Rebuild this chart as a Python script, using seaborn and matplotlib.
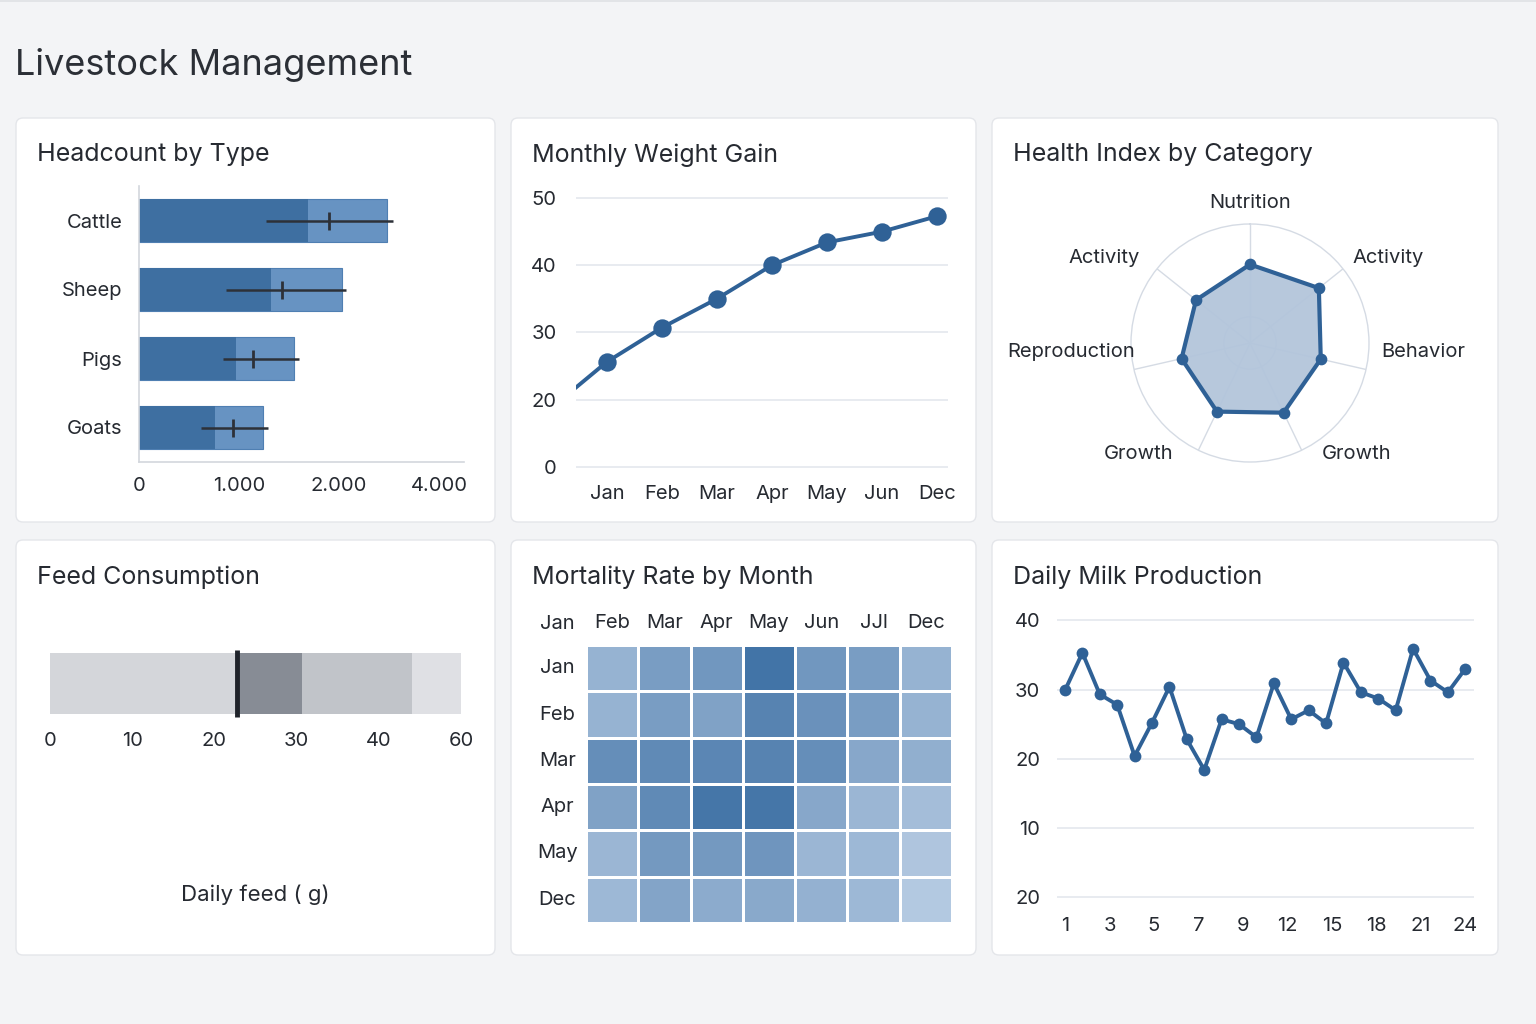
import numpy as np
import pandas as pd
import matplotlib.pyplot as plt
import seaborn as sns
from matplotlib.patches import FancyBboxPatch
from matplotlib.colors import LinearSegmentedColormap

# ---- data ----
animal_types = ["Cattle", "Sheep", "Pigs", "Goats"]
headcount_base = [1690, 1320, 970, 760]
headcount_total = [2480, 2030, 1550, 1240]
headcount_mean = [1900, 1430, 1140, 940]
headcount_low = [1270, 870, 840, 620]
headcount_high = [2540, 2070, 1600, 1290]
headcount_ticks = [0, 1000, 2000, 3000]
headcount_ticklabels = ["0", "1.000", "2.000", "4.000"]

weight_months = ["Jan", "Feb", "Mar", "Apr", "May", "Jun", "Dec"]
weight_gain = [25.6, 30.7, 35.0, 40.0, 43.4, 45.0, 47.3]
weight_prev = 18.8  # month before Jan, line enters from the left edge
weight_ticks = [10, 20, 30, 40, 50]
weight_ticklabels = ["0", "20", "30", "40", "50"]

health_categories = ["Nutrition", "Activity", "Behavior", "Growth",
                     "Growth", "Reproduction", "Activity"]
health_scores = [66, 74, 61, 65, 64, 59, 58]

feed_segments = [22.8, 7.8, 13.4, 6.0]
feed_marker = 22.8
feed_ticks = [0, 10, 20, 30, 40, 50]
feed_ticklabels = ["0", "10", "20", "30", "40", "60"]

mortality_rows = ["Jan", "Feb", "Mar", "Apr", "May", "Dec"]
mortality_cols = ["Feb", "Mar", "Apr", "May", "Jun", "JJl", "Dec"]
mortality_rate = [
    [0.35, 0.55, 0.60, 0.92, 0.60, 0.55, 0.35],
    [0.35, 0.55, 0.50, 0.78, 0.65, 0.55, 0.35],
    [0.68, 0.72, 0.75, 0.78, 0.68, 0.45, 0.38],
    [0.50, 0.72, 0.90, 0.90, 0.45, 0.32, 0.25],
    [0.32, 0.58, 0.58, 0.62, 0.32, 0.30, 0.18],
    [0.30, 0.48, 0.42, 0.44, 0.36, 0.30, 0.15],
]

milk_days = list(range(1, 25))
milk_litres = [29.9, 35.3, 29.3, 27.8, 20.4, 25.2, 30.4, 22.8, 18.4, 25.7,
               25.0, 23.1, 30.9, 25.7, 27.0, 25.1, 33.9, 29.6, 28.7, 27.0,
               35.9, 31.3, 29.6, 33.0]
milk_ticklabels = ["1", "3", "5", "7", "9", "12", "15", "18", "21", "24"]
milk_yticks = [0, 10, 20, 30, 40]
milk_yticklabels = ["20", "10", "20", "30", "40"]

# ---- style ----
W, H = 1536, 1024
BG = "#f3f4f6"
TXT = "#262a31"
GRID = "#e2e6ec"
BLUE = "#2f6196"
TICK = 14.5

sns.set_theme(style="white")
plt.rcParams["font.family"] = ["Inter", "DejaVu Sans"]
plt.rcParams["text.color"] = TXT
plt.rcParams["xtick.color"] = TXT
plt.rcParams["ytick.color"] = TXT

fig = plt.figure(figsize=(W / 100, H / 100), dpi=100, facecolor=BG)


def px_axes(left, top, right, bottom, **kw):
    return fig.add_axes([left / W, 1 - bottom / H, (right - left) / W,
                         (bottom - top) / H], **kw)


def card(left, top, right, bottom, title):
    box = FancyBboxPatch((left / 100, (H - bottom) / 100),
                         (right - left) / 100, (bottom - top) / 100,
                         boxstyle="round,pad=0,rounding_size=0.07",
                         transform=fig.dpi_scale_trans, facecolor="white",
                         edgecolor="#e4e6ea", linewidth=1.0, zorder=-5)
    fig.patches.append(box)
    fig.text((left + 21) / W, 1 - (top + 37) / H, title, fontsize=18,
             color=TXT, va="center", ha="left")


# thin border line along the top edge of the page
fig.add_artist(plt.Line2D([0, 1], [1 - 1 / H, 1 - 1 / H], color="#dfe1e5",
                          linewidth=1.2, transform=fig.transFigure))
fig.text(15 / W, 1 - 65 / H, "Livestock Management", fontsize=26,
         color="#2b2f36", va="center", ha="left")

card(16, 118, 495, 522, "Headcount by Type")
card(511, 118, 976, 522, "Monthly Weight Gain")
card(992, 118, 1498, 522, "Health Index by Category")
card(16, 540, 495, 955, "Feed Consumption")
card(511, 540, 976, 955, "Mortality Rate by Month")
card(992, 540, 1498, 955, "Daily Milk Production")

# ---- headcount by type ----
ax = px_axes(139, 186, 464, 462)
hc = pd.DataFrame({"type": animal_types, "base": headcount_base,
                   "total": headcount_total})
sns.barplot(data=hc, y="type", x="total", color="#6793c2", saturation=1,
            width=0.63, edgecolor="#4f7fb2", linewidth=0.8, ax=ax)
sns.barplot(data=hc, y="type", x="base", color="#3e6fa1", saturation=1,
            width=0.63, linewidth=0, ax=ax)
ypos = np.arange(len(animal_types))
mean = np.array(headcount_mean)
ax.errorbar(mean, ypos,
            xerr=[mean - np.array(headcount_low), np.array(headcount_high) - mean],
            fmt="|", color="#2d3138", ecolor="#2d3138", elinewidth=1.8,
            markersize=13, markeredgewidth=2, capsize=0)
ax.set_xlim(0, 3250)
ax.set_ylim(3.5, -0.5)
ax.set_xticks(headcount_ticks, headcount_ticklabels)
ax.set_xlabel("")
ax.set_ylabel("")
ax.tick_params(axis="both", length=0, labelsize=TICK)
ax.tick_params(axis="x", pad=11)
ax.tick_params(axis="y", pad=12)
for s in ["top", "right"]:
    ax.spines[s].set_visible(False)
for s in ["left", "bottom"]:
    ax.spines[s].set_color("#d3d7dd")
    ax.spines[s].set_linewidth(1.2)
ax.set_facecolor("none")

# ---- monthly weight gain ----
ax = px_axes(576, 186, 948, 470)
wx = np.arange(-1, len(weight_months))
wdf = pd.DataFrame({"x": wx, "gain": [weight_prev] + weight_gain})
sns.lineplot(data=wdf, x="x", y="gain", color=BLUE, linewidth=2.8, ax=ax)
sns.scatterplot(data=wdf[wdf["x"] >= 0], x="x", y="gain", color=BLUE, s=175,
                edgecolor=BLUE, linewidth=0, zorder=3, ax=ax)
ax.set_xlim(-0.56, 6.2)
ax.set_ylim(9.5, 51.8)
ax.set_yticks(weight_ticks, weight_ticklabels)
ax.set_xticks(range(len(weight_months)), weight_months)
ax.set_xlabel("")
ax.set_ylabel("")
ax.grid(axis="y", color=GRID, linewidth=1.1)
ax.tick_params(axis="both", length=0, labelsize=TICK)
ax.tick_params(axis="x", pad=11)
ax.tick_params(axis="y", pad=14)
sns.despine(ax=ax, left=True, bottom=True)
ax.set_facecolor("none")

# ---- health index radar ----
ax = px_axes(1131, 224, 1369, 462, projection="polar")
angles = np.linspace(0, 2 * np.pi, len(health_categories), endpoint=False)
ang_c = np.append(angles, angles[0])
sc_c = np.append(health_scores, health_scores[0])
ax.set_theta_offset(np.pi / 2)
ax.set_theta_direction(-1)
ax.fill(ang_c, sc_c, color="#b3c5db", alpha=0.95, zorder=2)
ax.plot(ang_c, sc_c, color=BLUE, linewidth=3, zorder=3)
ax.scatter(angles, health_scores, color=BLUE, s=55, zorder=4)
ax.set_ylim(0, 100)
ax.set_yticks([22])
ax.set_yticklabels([])
ax.set_xticks(angles)
ax.set_xticklabels([])
ax.grid(color="#d5dbe4", linewidth=1)
ax.spines["polar"].set_color("#d5dbe4")
ax.spines["polar"].set_linewidth(1)
ax.set_facecolor("none")
# label anchors, pixels from the radar centre
label_offsets = [(0, 140, "center"), (102, 85, "left"), (131, -9, "left"),
                 (72, -111, "left"), (-77, -111, "right"),
                 (-115, -9, "right"), (-110, 85, "right")]
for lab, (dx, dy, ha) in zip(health_categories, label_offsets):
    ax.annotate(lab, xy=(0, 0), xytext=(dx, dy), textcoords="offset pixels",
                ha=ha, va="center", fontsize=TICK, color=TXT,
                annotation_clip=False)

# ---- feed consumption ----
ax = px_axes(50, 645, 461, 722)
feed_colors = ["#d4d6da", "#878c95", "#c1c4c9", "#dfe0e4"]
left = 0
for w, c in zip(feed_segments, feed_colors):
    ax.barh(0, w, left=left, height=0.79, color=c, linewidth=0)
    left += w
ax.vlines(feed_marker, -0.43, 0.43, color="#1f232a", linewidth=3.5)
ax.set_xlim(0, 50)
ax.set_ylim(-0.5, 0.5)
ax.set_xticks(feed_ticks, feed_ticklabels)
ax.set_yticks([])
ax.tick_params(axis="x", length=0, labelsize=TICK, pad=7)
sns.despine(ax=ax, left=True, bottom=True)
ax.set_facecolor("none")
fig.text(255 / W, 1 - 895 / H, "Daily feed ( g)", fontsize=16, color=TXT,
         ha="center", va="center")

# ---- mortality heatmap ----
ax = px_axes(586, 645, 952, 923)
mdf = pd.DataFrame(mortality_rate, index=mortality_rows, columns=mortality_cols)
cmap = LinearSegmentedColormap.from_list("mort", ["#c9d9ec", "#376ba1"])
sns.heatmap(mdf, ax=ax, cmap=cmap, vmin=0, vmax=1, cbar=False,
            linewidths=1.8, linecolor="white")
ax.xaxis.tick_top()
ax.tick_params(axis="both", length=0, labelsize=TICK)
ax.tick_params(axis="x", pad=9)
ax.tick_params(axis="y", pad=10, rotation=0)
for t in ax.get_yticklabels():
    t.set_ha("center")
    t.set_x(-0.04)
ax.set_xlabel("")
ax.set_ylabel("")
fig.text(557 / W, 1 - 624 / H, "Jan", fontsize=TICK, color=TXT,
         ha="center", va="center")

# ---- daily milk production ----
ax = px_axes(1057, 612, 1474, 900)
mk = pd.DataFrame({"day": milk_days, "litres": milk_litres})
sns.lineplot(data=mk, x="day", y="litres", color=BLUE, linewidth=2.8,
             marker="o", markersize=8.5, markeredgewidth=0, ax=ax)
ax.set_xlim(0.54, 24.5)
ax.set_ylim(-0.4, 41.2)
ax.set_yticks(milk_yticks, milk_yticklabels)
ax.set_xticks(np.linspace(milk_days[0], milk_days[-1], len(milk_ticklabels)),
              milk_ticklabels)
ax.set_xlabel("")
ax.set_ylabel("")
ax.grid(axis="y", color=GRID, linewidth=1.1)
ax.tick_params(axis="both", length=0, labelsize=TICK)
ax.tick_params(axis="x", pad=12)
ax.tick_params(axis="y", pad=12)
sns.despine(ax=ax, left=True, bottom=True)
ax.set_facecolor("none")

fig.savefig("out.png", dpi=100, facecolor=BG)
